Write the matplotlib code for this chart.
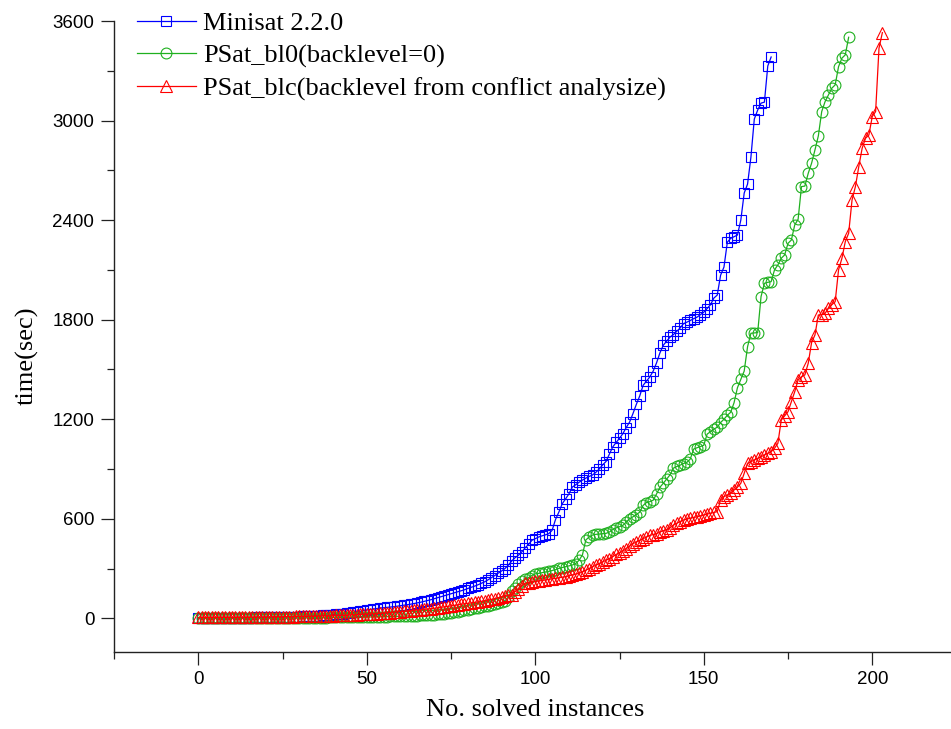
import numpy as np
import matplotlib
matplotlib.use("Agg")
import matplotlib.pyplot as plt
from matplotlib.ticker import MultipleLocator

# ---------------- data ----------------
labels = ["Minisat 2.2.0",
          "PSat_bl0(backlevel=0)",
          "PSat_blc(backlevel from conflict analysize)"]

minisat = [
    0, 0, 1, 1, 1, 1, 2, 2, 2, 2,
    3, 3, 3, 3, 4, 4, 4, 5, 5, 5,
    6, 6, 6, 7, 7, 8, 8, 9, 9, 10,
    10, 11, 12, 13, 14, 15, 16, 17, 19, 20,
    22, 24, 26, 28, 30, 33, 36, 39, 42, 46,
    50, 53, 56, 59, 62, 64, 66, 68, 70, 73,
    76, 79, 82, 85, 89, 93, 97, 102, 107, 112,
    118, 124, 130, 136, 142, 148, 154, 160, 166, 172,
    180, 187, 194, 202, 211, 220, 232, 245, 258, 272,
    285, 300, 320, 345, 365, 380, 400, 425, 445, 470,
    480, 490, 497, 503, 510, 530, 595, 640, 690, 720,
    750, 791, 805, 820, 833, 845, 855, 864, 880, 900,
    925, 945, 990, 1033, 1060, 1085, 1113, 1150, 1183, 1234,
    1290, 1340, 1404, 1430, 1455, 1490, 1540, 1600, 1646, 1670,
    1695, 1710, 1730, 1750, 1776, 1785, 1795, 1806, 1815, 1830,
    1845, 1867, 1890, 1930, 1948, 2068, 2117, 2267, 2290, 2300,
    2310, 2400, 2563, 2617, 2780, 3009, 3063, 3105, 3111, 3329, 3383]

psat_bl0 = [
    0, 0, 0, 0, 0, 0, 0, 0, 0, 0,
    0, 0, 0, 0, 0, 1, 1, 1, 1, 1,
    1, 1, 1, 1, 2, 2, 2, 2, 2, 2,
    3, 3, 3, 3, 3, 4, 4, 4, 4, 5,
    5, 5, 5, 6, 6, 6, 7, 7, 7, 8,
    8, 8, 9, 9, 9, 10, 10, 11, 11, 12,
    12, 13, 14, 14, 15, 16, 17, 18, 19, 20,
    22, 24, 26, 28, 30, 33, 36, 40, 44, 48,
    52, 56, 60, 64, 68, 72, 76, 80, 85, 90,
    96, 105, 128, 165, 185, 205, 222, 235, 245, 258,
    268, 271, 275, 279, 283, 288, 293, 301, 306, 311,
    316, 321, 330, 350, 382, 472, 490, 502, 506, 508,
    510, 512, 520, 535, 545, 552, 560, 580, 600, 612,
    625, 640, 680, 698, 703, 712, 750, 790, 814, 840,
    865, 905, 915, 923, 933, 940, 960, 1020, 1028, 1035,
    1043, 1110, 1125, 1140, 1152, 1180, 1200, 1224, 1242, 1300,
    1390, 1440, 1490, 1637, 1718, 1720, 1722, 1939, 2019, 2025,
    2029, 2100, 2130, 2170, 2190, 2260, 2280, 2371, 2405, 2602,
    2605, 2682, 2743, 2823, 2907, 3054, 3114, 3154, 3195, 3215,
    3325, 3376, 3396, 3502]

psat_blc = [
    5, 5, 5, 5, 5, 6, 6, 6, 6, 6,
    6, 6, 7, 7, 7, 7, 7, 8, 8, 8,
    8, 8, 9, 9, 9, 9, 10, 10, 10, 11,
    11, 11, 12, 12, 13, 13, 14, 14, 15, 15,
    16, 17, 17, 18, 19, 20, 21, 22, 23, 24,
    25, 26, 27, 28, 30, 31, 33, 35, 37, 39,
    40, 42, 44, 46, 48, 50, 52, 54, 56, 58,
    60, 63, 66, 69, 72, 75, 78, 81, 84, 88,
    90, 93, 96, 99, 102, 106, 110, 114, 118, 124,
    130, 134, 138, 142, 160, 175, 195, 211, 215, 218,
    222, 225, 228, 231, 235, 238, 241, 244, 248, 251,
    256, 262, 267, 271, 280, 290, 300, 311, 320, 330,
    340, 350, 360, 371, 385, 395, 405, 420, 435, 450,
    460, 470, 480, 490, 500, 505, 510, 520, 528, 535,
    545, 562, 573, 583, 593, 598, 603, 608, 612, 618,
    623, 628, 633, 638, 643, 713, 733, 743, 753, 773,
    790, 814, 874, 934, 944, 954, 964, 974, 984, 995,
    1004, 1025, 1055, 1195, 1220, 1245, 1306, 1366, 1436, 1456,
    1467, 1537, 1662, 1708, 1828, 1830, 1838, 1869, 1890, 1908,
    2100, 2170, 2270, 2321, 2521, 2602, 2722, 2833, 2893, 2913,
    3024, 3054, 3436, 3530]

x_ticks = [0, 50, 100, 150, 200]
y_ticks = [0, 600, 1200, 1800, 2400, 3000, 3600]

# ---------------- figure ----------------
W, H = 951, 729
fig = plt.figure(figsize=(W / 100, H / 100), dpi=100)
ax_l, ax_r, ax_b, ax_t = 114, 951, 651.5, 21
ax = fig.add_axes([ax_l / W, (H - ax_b) / H, (ax_r - ax_l) / W, (ax_b - ax_t) / H])

serif = ["Liberation Serif", "DejaVu Serif"]
sans = ["Liberation Sans", "DejaVu Sans"]

styles = [
    (minisat, "#0000ff", "s", 7.0),
    (psat_bl0, "#1fb01f", "o", 7.8),
    (psat_blc, "#ff0000", "^", 8.6),
]
for (vals, col, mk, ms), lab in zip(styles, labels):
    xs = np.arange(len(vals))
    ax.plot(xs, vals, color=col, lw=0.9, marker=mk, ms=ms, mfc="none",
            mec=col, mew=0.8, label=lab, clip_on=False)

ax.set_xlim(-25, -25 + (ax_r - ax_l) / 3.37)
ax.set_ylim(-200, 3600)

ax.set_xticks(x_ticks)
ax.set_yticks(y_ticks)
ax.xaxis.set_minor_locator(MultipleLocator(25))
ax.yaxis.set_minor_locator(MultipleLocator(300))

for s in ["top", "right"]:
    ax.spines[s].set_visible(False)
for s in ["left", "bottom"]:
    ax.spines[s].set_linewidth(1.0)
    ax.spines[s].set_color("#222222")

ax.tick_params(which="major", direction="out", length=9.2, width=0.9,
               color="#222222", labelsize=13.5, pad=5)
ax.tick_params(which="minor", direction="out", length=5, width=0.9,
               color="#222222")
for t in ax.get_xticklabels() + ax.get_yticklabels():
    t.set_fontfamily(sans)

ax.set_xlabel("No. solved instances", fontsize=19, family=serif)
ax.set_ylabel("time(sec)", fontsize=19, family=serif)
ax.xaxis.set_label_coords(0.503, -0.075)
ax.yaxis.set_label_coords(-0.09, 0.469)

leg = ax.legend(loc="upper left", bbox_to_anchor=(137 / W, 1 - 12 / H),
                bbox_transform=fig.transFigure, frameon=False,
                prop={"family": serif, "size": 19},
                handlelength=2.23, handletextpad=0.27, labelspacing=0.33,
                borderpad=0, borderaxespad=0)

fig.savefig("out.png", dpi=100)
